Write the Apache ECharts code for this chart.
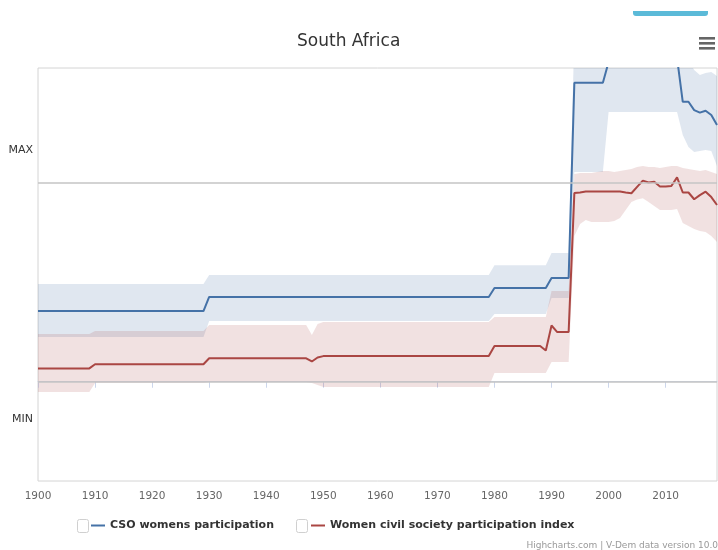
<!DOCTYPE html>
<html>
<head>
<meta charset="utf-8">
<title>South Africa</title>
<script src="https://cdn.jsdelivr.net/npm/echarts@6/dist/echarts.min.js"></script>
<style>
  html, body { margin: 0; padding: 0; background: #ffffff; }
  #chart { width: 718px; height: 550px; }
</style>
</head>
<body>
<div id="chart"></div>
<script>
// Scale: 0 = MIN reference line, 1 = MAX reference line
const gridValues = [0, 1];
const yLabelValues = [1.167, -0.188];
const yLabelText = ['MAX', 'MIN'];
const xTicks = [1900, 1910, 1920, 1930, 1940, 1950, 1960, 1970, 1980, 1990, 2000, 2010];

// CSO womens participation (estimate)
const csoYears  = [1900, 1929, 1930, 1979, 1980, 1989, 1990, 1993, 1994, 1999, 2000, 2001, 2011, 2012, 2013, 2014, 2015, 2016, 2017, 2018, 2019];
const csoValues = [0.356, 0.356, 0.427, 0.427, 0.472, 0.472, 0.522, 0.522, 1.506, 1.506, 1.61, 1.70, 1.70, 1.63, 1.410, 1.410, 1.368, 1.355, 1.365, 1.343, 1.293];

// CSO womens participation (confidence interval)
const csoBandYears = [1900, 1929, 1930, 1979, 1980, 1989, 1990, 1993, 1994, 1999, 2000, 2012, 2013, 2014, 2015, 2016, 2017, 2018, 2019];
const csoLow  = [0.225, 0.225, 0.306, 0.306, 0.341, 0.341, 0.422, 0.422, 1.056, 1.056, 1.358, 1.358, 1.242, 1.182, 1.157, 1.162, 1.167, 1.162, 1.087];
const csoHigh = [0.492, 0.492, 0.537, 0.537, 0.587, 0.587, 0.648, 0.648, 1.75, 1.75, 1.80, 1.80, 1.70, 1.62, 1.570, 1.545, 1.555, 1.560, 1.540];

// Women civil society participation index (estimate)
const wcspiYears  = [1900, 1909, 1910, 1929, 1930, 1947, 1948, 1949, 1950, 1979, 1980, 1988, 1989, 1990, 1991, 1993, 1994, 1995, 1996, 2002, 2003, 2004, 2005, 2006, 2007, 2008, 2009, 2010, 2011, 2012, 2013, 2014, 2015, 2016, 2017, 2018, 2019];
const wcspiValues = [0.067, 0.067, 0.088, 0.088, 0.118, 0.118, 0.102, 0.122, 0.129, 0.129, 0.180, 0.180, 0.157, 0.283, 0.250, 0.250, 0.950, 0.953, 0.958, 0.958, 0.953, 0.949, 0.981, 1.013, 1.003, 1.007, 0.983, 0.983, 0.986, 1.029, 0.953, 0.953, 0.919, 0.940, 0.957, 0.930, 0.890];

// Women civil society participation index (confidence interval)
const wcspiBandYears = [1900, 1909, 1910, 1929, 1930, 1947, 1948, 1949, 1950, 1979, 1980, 1989, 1990, 1993, 1994, 1995, 1996, 1997, 1998, 1999, 2000, 2001, 2002, 2003, 2004, 2005, 2006, 2007, 2008, 2009, 2010, 2011, 2012, 2013, 2014, 2015, 2016, 2017, 2018, 2019];
const wcspiLow  = [-0.052, -0.052, -0.007, -0.007, -0.002, -0.002, -0.007, -0.017, -0.027, -0.027, 0.044, 0.044, 0.099, 0.099, 0.734, 0.794, 0.814, 0.804, 0.804, 0.804, 0.804, 0.809, 0.824, 0.865, 0.905, 0.918, 0.924, 0.905, 0.885, 0.865, 0.865, 0.865, 0.870, 0.800, 0.784, 0.769, 0.759, 0.754, 0.734, 0.704];
const wcspiHigh = [0.240, 0.240, 0.255, 0.255, 0.286, 0.286, 0.235, 0.291, 0.301, 0.301, 0.326, 0.326, 0.457, 0.457, 1.046, 1.051, 1.051, 1.051, 1.056, 1.061, 1.061, 1.056, 1.061, 1.066, 1.071, 1.081, 1.086, 1.081, 1.081, 1.076, 1.081, 1.086, 1.086, 1.076, 1.071, 1.066, 1.061, 1.066, 1.056, 1.046];

const CSO_NAME = 'CSO womens participation';
const WCSPI_NAME = 'Women civil society participation index';
const BLUE = '#4572A7';
const RED = '#AA4643';
const FONT = '"DejaVu Sans", "Lucida Grande", sans-serif';

const pairs = (xs, ys) => xs.map((x, i) => [x, ys[i]]);

// Confidence band: one polygon through the upper bounds and back along the lower bounds
function bandSeries(years, low, high, fill) {
  return {
    type: 'custom', silent: true, clip: true, z: 1,
    data: years.map((y, i) => [y, low[i], high[i]]),
    encode: { x: 0, y: [1, 2] },
    renderItem: (params, api) => {
      if (params.dataIndex !== 0) return null;
      const upper = years.map((y, i) => api.coord([y, high[i]]));
      const lower = years.map((y, i) => api.coord([y, low[i]])).reverse();
      return {
        type: 'polygon',
        shape: { points: upper.concat(lower) },
        style: { fill: fill, stroke: null }
      };
    }
  };
}

const legendBase = {
  padding: 0, itemWidth: 14, itemHeight: 2, icon: 'rect', selectedMode: false,
  textStyle: { fontFamily: FONT, fontSize: 11, fontWeight: 'bold', color: '#333333' }
};

const chart = echarts.init(document.getElementById('chart'), null, { renderer: 'canvas' });

chart.setOption({
  animation: false,
  backgroundColor: '#ffffff',
  title: [
    {
      text: 'South Africa', left: 297, top: 33, padding: 0,
      textStyle: { fontFamily: FONT, fontSize: 17, fontWeight: 'normal', color: '#333333' }
    },
    {
      text: 'Highcharts.com | V-Dem data version 10.0', right: 0, top: 541, padding: 0,
      textStyle: { fontFamily: FONT, fontSize: 9, fontWeight: 'normal', color: '#999999' }
    }
  ],
  legend: [
    Object.assign({ data: [CSO_NAME], left: 91, top: 520 }, legendBase),
    Object.assign({ data: [WCSPI_NAME], left: 311, top: 520 }, legendBase)
  ],
  grid: {
    left: 38, right: 1, top: 68, bottom: 69,
    show: true, borderColor: '#d4d4d4', borderWidth: 1, backgroundColor: 'transparent'
  },
  xAxis: {
    type: 'value', min: 1900, max: 2019, interval: 10,
    axisLine: { show: true, lineStyle: { color: '#ccd6eb', width: 1 } },
    axisTick: { show: true, customValues: xTicks, length: 6, lineStyle: { color: '#ccd6eb' } },
    axisLabel: {
      customValues: xTicks, margin: 10, formatter: v => String(v),
      fontFamily: FONT, fontSize: 10.5, color: '#666666'
    },
    splitLine: { show: false }
  },
  yAxis: {
    type: 'value', min: -0.5, max: 1.58,
    axisLine: { show: false }, axisTick: { show: false }, splitLine: { show: false },
    axisLabel: {
      customValues: yLabelValues, margin: 5,
      formatter: v => yLabelText[yLabelValues.indexOf(v)] || '',
      fontFamily: FONT, fontSize: 11, color: '#333333'
    }
  },
  graphic: [
    // export menu button
    { type: 'rect', left: 699, top: 37, shape: { width: 16, height: 2.6 }, style: { fill: '#666666' }, silent: true },
    { type: 'rect', left: 699, top: 42, shape: { width: 16, height: 2.6 }, style: { fill: '#666666' }, silent: true },
    { type: 'rect', left: 699, top: 47, shape: { width: 16, height: 2.6 }, style: { fill: '#666666' }, silent: true },
    // tab strip above the chart
    { type: 'rect', left: 633, top: 11, shape: { width: 75, height: 5, r: [0, 0, 3, 3] }, style: { fill: '#5bbad8' }, silent: true },
    // legend checkboxes
    { type: 'rect', left: 77, top: 519, shape: { width: 11, height: 13, r: 2 }, style: { fill: '#ffffff', stroke: '#d0d0d0', lineWidth: 1 }, silent: true },
    { type: 'rect', left: 296, top: 519, shape: { width: 11, height: 13, r: 2 }, style: { fill: '#ffffff', stroke: '#d0d0d0', lineWidth: 1 }, silent: true }
  ],
  series: [
    {
      // MIN / MAX reference lines
      type: 'line', data: [], silent: true, z: 0,
      markLine: {
        silent: true, symbol: 'none', label: { show: false },
        lineStyle: { color: '#c4c4c4', width: 1.5, type: 'solid' },
        emphasis: { disabled: true },
        data: gridValues.map(v => ({ yAxis: v }))
      }
    },
    bandSeries(csoBandYears, csoLow, csoHigh, 'rgba(69,114,167,0.17)'),
    bandSeries(wcspiBandYears, wcspiLow, wcspiHigh, 'rgba(170,70,67,0.16)'),
    {
      name: CSO_NAME, type: 'line', data: pairs(csoYears, csoValues),
      symbol: 'none', silent: true, z: 3, color: BLUE,
      lineStyle: { color: BLUE, width: 2 }, emphasis: { disabled: true }
    },
    {
      name: WCSPI_NAME, type: 'line', data: pairs(wcspiYears, wcspiValues),
      symbol: 'none', silent: true, z: 3, color: RED,
      lineStyle: { color: RED, width: 2 }, emphasis: { disabled: true }
    }
  ]
});
</script>
</body>
</html>
